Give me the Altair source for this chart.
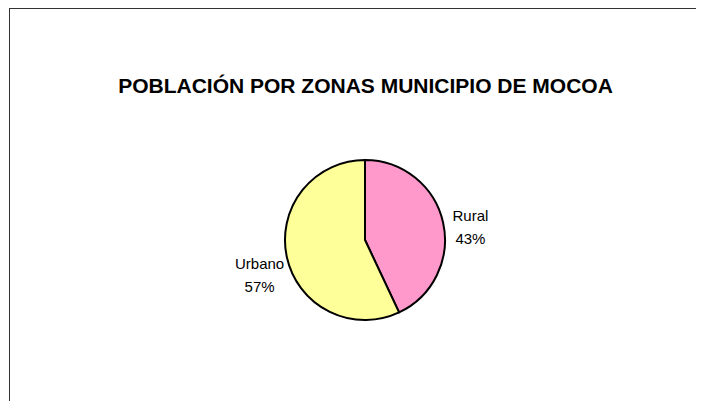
import altair as alt
import pandas as pd

title_text = "POBLACIÓN POR ZONAS MUNICIPIO DE MOCOA"
categories = ["Rural", "Urbano"]
percents = [43, 57]
colors = ["#FF99CC", "#FFFF99"]

df = pd.DataFrame({"zona": categories, "pct": percents, "orden": [0, 1]})
df["label"] = [f"{c}\n{p}%" for c, p in zip(categories, percents)]

W, H = 689, 393
CX, CY = 357, 232

base = alt.Chart(df).encode(
    theta=alt.Theta("pct:Q", stack=True),
    order=alt.Order("orden:Q"),
)

pie = base.mark_arc(radius=80, stroke="black", strokeWidth=2).encode(
    color=alt.Color("zona:N", scale=alt.Scale(domain=categories, range=colors), legend=None),
    x=alt.value(CX), y=alt.value(CY),
)

labels = base.mark_text(
    radius=108, font="Liberation Sans", fontSize=15, lineBreak="\n",
    lineHeight=23, align="center", baseline="middle", color="black",
).encode(text="label:N", x=alt.value(CX), y=alt.value(CY))

frame_df = pd.DataFrame({"t": [title_text]})
title = alt.Chart(frame_df).mark_text(
    font="Liberation Sans", fontSize=21, fontWeight="bold", align="center",
    baseline="alphabetic", color="black",
).encode(text="t:N", x=alt.value(357.5), y=alt.value(85))

left = alt.Chart(frame_df).mark_rule(color="#333333", strokeWidth=1).encode(
    x=alt.value(1.5), y=alt.value(0), y2=alt.value(H))
top = alt.Chart(frame_df).mark_rule(color="#333333", strokeWidth=1).encode(
    x=alt.value(1), x2=alt.value(W - 1), y=alt.value(0.5))

chart = alt.layer(left, top, title, pie, labels).properties(
    width=W, height=H, autosize=alt.AutoSizeParams(type="none"), padding=0
).configure_view(strokeOpacity=0, strokeWidth=0)

chart.save("out.html", embed_options={"renderer": "svg", "actions": False})
